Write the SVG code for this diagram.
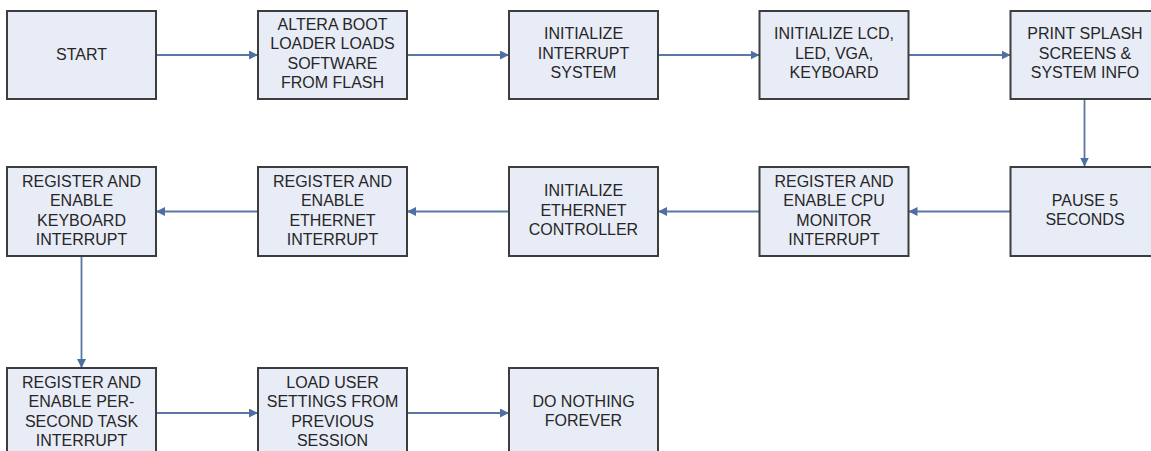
<svg xmlns="http://www.w3.org/2000/svg" width="1151" height="451" viewBox="0 0 1151 451">
  <style>
    .box { fill: #e8ecf7; stroke: #3d3d3d; stroke-width: 2; }
    .lbl { font-family: "Liberation Sans", Arial, sans-serif; font-size: 16px; fill: #262626; text-anchor: middle; }
    .wire { fill: none; stroke: #5a78a6; stroke-width: 1.8; }
  </style>
  <defs>
    <marker id="arrow" viewBox="0 0 10 10" refX="10" refY="5" markerWidth="9" markerHeight="9" markerUnits="userSpaceOnUse" orient="auto">
      <path d="M0,0 L10,5 L0,10 Z" fill="#4d6fa3"/>
    </marker>
  </defs>
  <rect width="1151" height="451" fill="#ffffff"/>

  <!-- connectors -->
  <g id="connectors" class="wire" marker-end="url(#arrow)">
    <line x1="156" y1="55" x2="258" y2="55"/>
    <line x1="407" y1="55" x2="509" y2="55"/>
    <line x1="658" y1="55" x2="759.5" y2="55"/>
    <line x1="908.5" y1="55" x2="1010.5" y2="55"/>
    <line x1="1084.5" y1="98.5" x2="1084.5" y2="166.5"/>
    <line x1="1010.5" y1="211.5" x2="908.5" y2="211.5"/>
    <line x1="759.5" y1="211.5" x2="658" y2="211.5"/>
    <line x1="509" y1="211.5" x2="407" y2="211.5"/>
    <line x1="258" y1="211.5" x2="156" y2="211.5"/>
    <line x1="81.5" y1="256" x2="81.5" y2="368"/>
    <line x1="156" y1="413" x2="258" y2="413"/>
    <line x1="407" y1="413" x2="509" y2="413"/>
  </g>

  <!-- row 1 -->
  <g id="start">
    <rect class="box" x="7" y="11" width="149" height="88"/>
    <text class="lbl" x="81.5" y="59.5">START</text>
  </g>
  <g id="boot-loader">
    <rect class="box" x="258" y="11" width="149" height="88"/>
    <text class="lbl" x="332.5" y="29.5">ALTERA BOOT</text>
    <text class="lbl" x="332.5" y="49">LOADER LOADS</text>
    <text class="lbl" x="332.5" y="68.5">SOFTWARE</text>
    <text class="lbl" x="332.5" y="88">FROM FLASH</text>
  </g>
  <g id="init-interrupt">
    <rect class="box" x="509" y="11" width="149" height="88"/>
    <text class="lbl" x="583.5" y="39.2">INITIALIZE</text>
    <text class="lbl" x="583.5" y="58.7">INTERRUPT</text>
    <text class="lbl" x="583.5" y="78.2">SYSTEM</text>
  </g>
  <g id="init-io">
    <rect class="box" x="759.5" y="11" width="149" height="88"/>
    <text class="lbl" x="834" y="39.2">INITIALIZE LCD,</text>
    <text class="lbl" x="834" y="58.7">LED, VGA,</text>
    <text class="lbl" x="834" y="78.2">KEYBOARD</text>
  </g>
  <g id="splash">
    <rect class="box" x="1010.5" y="11" width="149" height="88"/>
    <text class="lbl" x="1085" y="39.2">PRINT SPLASH</text>
    <text class="lbl" x="1085" y="58.7">SCREENS &amp;</text>
    <text class="lbl" x="1085" y="78.2">SYSTEM INFO</text>
  </g>

  <!-- row 2 -->
  <g id="pause">
    <rect class="box" x="1010.5" y="167" width="149" height="89"/>
    <text class="lbl" x="1085" y="205.5">PAUSE 5</text>
    <text class="lbl" x="1085" y="225">SECONDS</text>
  </g>
  <g id="cpu-monitor">
    <rect class="box" x="759.5" y="167" width="149" height="89"/>
    <text class="lbl" x="834" y="186.5">REGISTER AND</text>
    <text class="lbl" x="834" y="206">ENABLE CPU</text>
    <text class="lbl" x="834" y="225.5">MONITOR</text>
    <text class="lbl" x="834" y="245">INTERRUPT</text>
  </g>
  <g id="init-ethernet">
    <rect class="box" x="509" y="167" width="149" height="89"/>
    <text class="lbl" x="583.5" y="196">INITIALIZE</text>
    <text class="lbl" x="583.5" y="215.5">ETHERNET</text>
    <text class="lbl" x="583.5" y="235">CONTROLLER</text>
  </g>
  <g id="ethernet-interrupt">
    <rect class="box" x="258" y="167" width="149" height="89"/>
    <text class="lbl" x="332.5" y="186.5">REGISTER AND</text>
    <text class="lbl" x="332.5" y="206">ENABLE</text>
    <text class="lbl" x="332.5" y="225.5">ETHERNET</text>
    <text class="lbl" x="332.5" y="245">INTERRUPT</text>
  </g>
  <g id="keyboard-interrupt">
    <rect class="box" x="7" y="167" width="149" height="89"/>
    <text class="lbl" x="81.5" y="186.5">REGISTER AND</text>
    <text class="lbl" x="81.5" y="206">ENABLE</text>
    <text class="lbl" x="81.5" y="225.5">KEYBOARD</text>
    <text class="lbl" x="81.5" y="245">INTERRUPT</text>
  </g>

  <!-- row 3 -->
  <g id="per-second-task">
    <rect class="box" x="7" y="368" width="149" height="89"/>
    <text class="lbl" x="81.5" y="387.5">REGISTER AND</text>
    <text class="lbl" x="81.5" y="407">ENABLE PER-</text>
    <text class="lbl" x="81.5" y="426.5">SECOND TASK</text>
    <text class="lbl" x="81.5" y="446">INTERRUPT</text>
  </g>
  <g id="load-settings">
    <rect class="box" x="258" y="368" width="149" height="89"/>
    <text class="lbl" x="332.5" y="387.5">LOAD USER</text>
    <text class="lbl" x="332.5" y="407">SETTINGS FROM</text>
    <text class="lbl" x="332.5" y="426.5">PREVIOUS</text>
    <text class="lbl" x="332.5" y="446">SESSION</text>
  </g>
  <g id="idle">
    <rect class="box" x="509" y="368" width="149" height="89"/>
    <text class="lbl" x="583.5" y="406.5">DO NOTHING</text>
    <text class="lbl" x="583.5" y="426">FOREVER</text>
  </g>
</svg>
